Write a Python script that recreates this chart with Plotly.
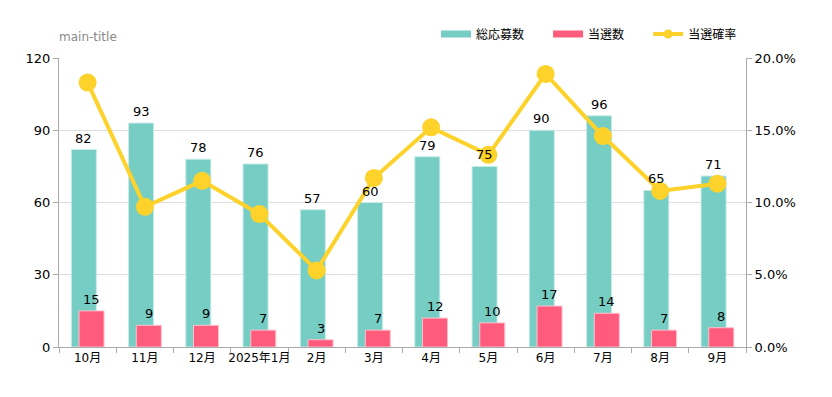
import plotly.graph_objects as go

categories = ["10月", "11月", "12月", "2025年1月", "2月", "3月", "4月", "5月", "6月", "7月", "8月", "9月"]
applications = [82, 93, 78, 76, 57, 60, 79, 75, 90, 96, 65, 71]
winners = [15, 9, 9, 7, 3, 7, 12, 10, 17, 14, 7, 8]
win_rate = [0.183, 0.097, 0.115, 0.092, 0.053, 0.117, 0.152, 0.133, 0.189, 0.146, 0.108, 0.113]

TEAL = "#76cdc4"
PINK = "#ff5b7c"
GOLD = "#fdd22a"
FONT = "DejaVu Sans, Noto Sans CJK JP, sans-serif"
PAD = "\u00a0" * 5

BAR_W = 0.437
OFF_A = -0.285
OFF_B = -0.15

# page body has an 8px margin, so the figure is drawn 8px in from the window edge
W, H = 816, 381

fig = go.Figure()
fig.add_trace(go.Bar(
    x=categories, y=applications, name="総応募数", marker=dict(color=TEAL, line=dict(color="#c9ece8", width=1)),
    width=BAR_W, offset=OFF_A, showlegend=False,
))
fig.add_trace(go.Bar(
    x=categories, y=winners, name="当選数", marker=dict(color=PINK, line=dict(color="#ffc0cc", width=1)),
    width=BAR_W, offset=OFF_B, showlegend=False,
))
fig.add_trace(go.Scatter(
    x=categories, y=win_rate, name="当選確率", yaxis="y2", mode="lines+markers",
    line=dict(color=GOLD, width=4), marker=dict(color=GOLD, size=18), showlegend=False,
    cliponaxis=False,
))
# legend proxies
fig.add_trace(go.Scatter(x=[None], y=[None], mode="lines", name="総応募数" + PAD, line=dict(color=TEAL, width=7)))
fig.add_trace(go.Scatter(x=[None], y=[None], mode="lines", name="当選数" + PAD, line=dict(color=PINK, width=7)))
fig.add_trace(go.Scatter(x=[None], y=[None], mode="lines+markers", name="当選確率",
                         line=dict(color=GOLD, width=4), marker=dict(color=GOLD, size=9)))

# value labels drawn on top of everything (as in the reference)
annotations = []
for i, (a, b) in enumerate(zip(applications, winners)):
    for val, off in ((a, OFF_A), (b, OFF_B)):
        annotations.append(dict(
            x=i + off + BAR_W / 2, y=val, xref="x", yref="y", text=str(val), showarrow=False,
            yanchor="bottom", yshift=2, font=dict(size=13, color="#000"),
        ))

fig.update_layout(
    width=W, height=H,
    margin=dict(l=51, r=78, t=50, b=42, autoexpand=False),
    paper_bgcolor="white", plot_bgcolor="white",
    font=dict(family=FONT, size=12, color="#000"),
    barmode="overlay",
    annotations=annotations,
    title=dict(text="main-title", x=51/W, xanchor="left", y=1-29/H, yanchor="middle",
               font=dict(size=12, color="#888")),
    legend=dict(orientation="h", x=428/W, xanchor="left", y=1-26/H, yanchor="middle",
                yref="container", xref="container", font=dict(size=12), itemwidth=30,
                bgcolor="rgba(0,0,0,0)"),
    xaxis=dict(type="category", tickson="boundaries", ticks="outside", ticklen=5, tickcolor="#aaa",
               showline=True, linecolor="#aaa", showgrid=False, range=[-0.5, 11.5],
               tickfont=dict(size=12), tickangle=0, automargin=False),
    yaxis=dict(range=[0, 120], dtick=30, showgrid=True, gridcolor="#dddddd", showline=True,
               linecolor="#aaa", ticks="outside", ticklen=5, tickcolor="#aaa", zeroline=False,
               tickfont=dict(size=13), automargin=False),
    yaxis2=dict(range=[0, 0.2], dtick=0.05, tickformat=".1%", overlaying="y", side="right",
                showgrid=False, showline=True, linecolor="#aaa", ticks="outside", ticklen=5,
                tickcolor="#aaa", zeroline=False, tickfont=dict(size=13), automargin=False),
)

fig.write_html("out.html")
